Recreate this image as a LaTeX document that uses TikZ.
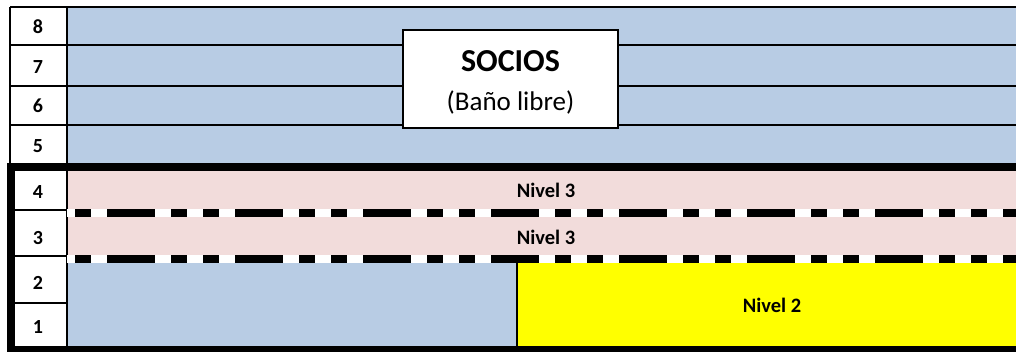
\documentclass[tikz,border=0pt]{standalone}
\usepackage{fontspec}
\setmainfont{Carlito}
\definecolor{socio}{HTML}{B8CCE4}
\definecolor{nivtres}{HTML}{F2DCDB}
\definecolor{nivdos}{HTML}{FFFF00}
\begin{document}
\begin{tikzpicture}[x=1pt, y=-1pt,
    num/.style={font=\bfseries\fontsize{20}{20}\selectfont, inner sep=0pt},
    lvl/.style={font=\bfseries\fontsize{20.5}{20.5}\selectfont, inner sep=0pt},
    thin/.style={line width=2pt},
    frame/.style={line width=8pt},
    dashln/.style={line width=8pt, dash pattern=on 48pt off 16pt on
      16pt off 16pt on 16pt off 16pt, dash phase=88pt}]
  \useasboundingbox (0,0) rectangle (1016,351);
  \begin{scope}
    \clip (0,0) rectangle (1016,351);
    % bands
    \fill [socio] (67,7) rectangle (1030,167);
    \fill [nivtres] (67,167) rectangle (1030,259);
    \fill [socio] (67,259) rectangle (517,350);
    \fill [nivdos] (517,259) rectangle (1030,350);
    \fill [white] (10,7) rectangle (67,350);

    % grid
    \begin{scope}[thin]
      \draw (10,7) -- (1030,7); \draw (10,45) -- (1030,45); \draw
      (10,86) -- (1030,86); \draw (10,125) -- (1030,125); \draw
      (10,7) -- (10,167); \draw (67,7) -- (67,350); \draw (11,210) --
      (67,210); \draw (11,256) -- (67,256); \draw (11,303) --
      (67,303); \draw (517,259) -- (517,350);
    \end{scope}

    % dashed separators between the Nivel 3 rows
    \foreach \y in {213,259} {
      \draw [line width=8pt, white] (67,\y) -- (1030,\y);
      \draw [dashln] (67,\y) -- (1030,\y);
    }

    % thick frame
    \begin{scope}[frame]
      \draw (7,167) -- (1030,167); \draw (11,163) -- (11,351); \draw
      (7,350) -- (1030,350);
    \end{scope}
  \end{scope}

  \begin{scope}[every node/.style={num}]
    \node (r8) at (38,27) {8}; \node (r7) at (38,67) {7}; \node (r6)
    at (38,106) {6}; \node (r5) at (38,146) {5}; \node (r4) at
    (38,192) {4}; \node (r3) at (38,238) {3}; \node (r2) at (38,283)
    {2}; \node (r1) at (38,327) {1};
  \end{scope}

  \begin{scope}[every node/.style={lvl}]
    \node (n3a) at (546,190) {Nivel 3}; \node (n3b) at (546,237)
    {Nivel 3}; \node (n2) at (772,305) {Nivel 2};
  \end{scope}

  \node [draw, thin, fill=white, minimum width=215, minimum
  height=98, inner sep=0pt] (socios) at (510.5,79) {};
  \node [font=\bfseries\fontsize{32}{32}\selectfont, inner sep=0pt]
  (tit) at (510.5,61) {SOCIOS};
  \node [font=\fontsize{27}{27}\selectfont, inner sep=0pt] (sub) at
  (510.5,102) {(Baño libre)};
\end{tikzpicture}
\end{document}
